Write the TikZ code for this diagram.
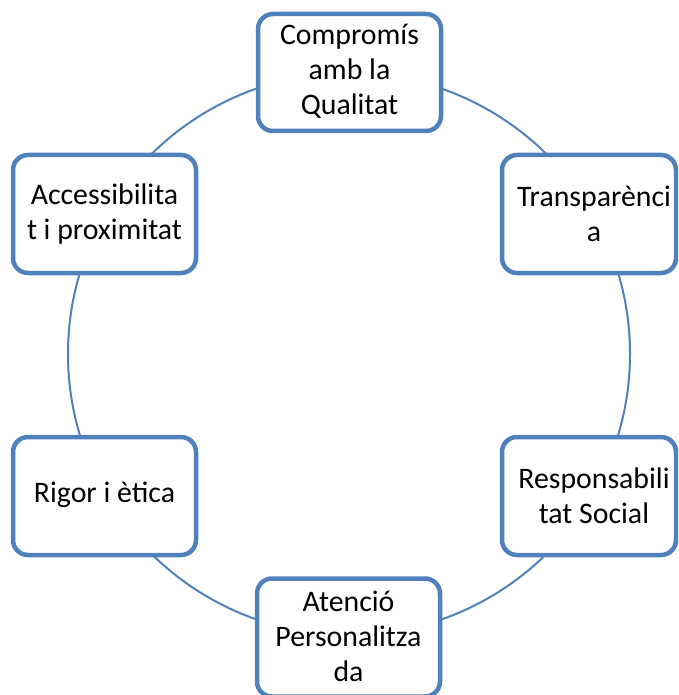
\documentclass[tikz,border=0pt]{standalone}
\usepackage{fontspec}
\setmainfont{Carlito}
\definecolor{ringblue}{RGB}{79,129,189}
\begin{document}
\begin{tikzpicture}[x=1pt,y=-1pt,
  valuebox/.style={draw=ringblue, line width=4.5pt, fill=white,
    rounded corners=15pt, inner sep=0pt},
  valuetext/.style={align=center, inner sep=0pt,
    font=\fontsize{29.8}{35}\selectfont, text=black},
  ring/.style={draw=ringblue, line width=2pt}]
  \clip (0,0) rectangle (678,695);
  \useasboundingbox (0,0) rectangle (678,695);
  % centre of the ring
  \coordinate (centre) at (349,354);
  \draw[ring] (centre) circle[radius=281];
  % values placed around the ring
  \node[valuebox, minimum width=183pt, minimum height=117pt] (qual) at (349.5,72.5) {};
  \node[valuetext] (qualtxt) at ([yshift=1.5pt]qual.center) {Compromís\\amb la\\Qualitat};
  \node[valuebox, minimum width=174pt, minimum height=118pt] (transp) at (589,214) {};
  \node[valuetext] (transptxt) at ([xshift=5pt]transp.center) {Transparènci\\a};
  \node[valuebox, minimum width=174pt, minimum height=118pt] (resp) at (589,496) {};
  \node[valuetext] (resptxt) at ([xshift=5pt]resp.center) {Responsabili\\tat Social};
  \node[valuebox, minimum width=183pt, minimum height=118pt] (aten) at (348.5,637.5) {};
  \node[valuetext] (atentxt) at ([yshift=1.5pt]aten.center) {Atenció\\Personalitza\\da};
  \node[valuebox, minimum width=183pt, minimum height=118pt] (rigor) at (104.5,496) {};
  \node[valuetext] (rigortxt) at ([yshift=1.5pt]rigor.center) {Rigor i ètica};
  \node[valuebox, minimum width=183pt, minimum height=118pt] (acces) at (104.5,214) {};
  \node[valuetext] (accestxt) at (acces.center) {Accessibilita\\t i proximitat};
\end{tikzpicture}
\end{document}
